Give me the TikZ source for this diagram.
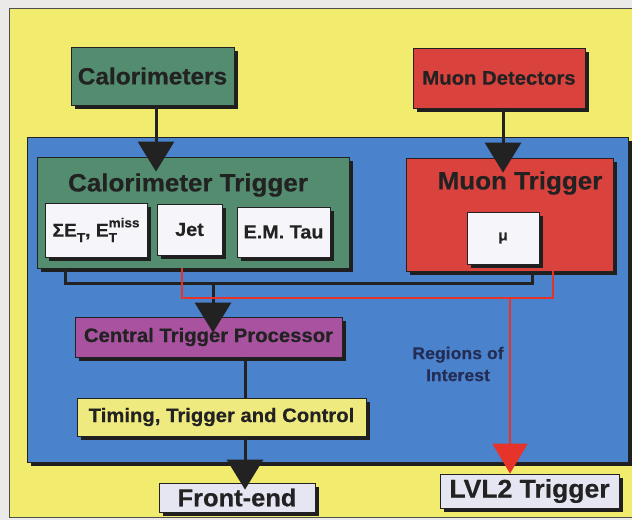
\documentclass[tikz,border=0pt]{standalone}
\usepackage{fontspec}
\newfontfamily\hv{Liberation Sans}[FakeStretch=1.04,FakeBold=0.5]
\usetikzlibrary{arrows.meta,shadows,calc}
\definecolor{bgc}{RGB}{236,234,232}
\definecolor{yel}{RGB}{242,236,110}
\definecolor{blu}{RGB}{74,130,204}
\definecolor{grn}{RGB}{84,140,112}
\definecolor{redb}{RGB}{218,66,62}
\definecolor{pur}{RGB}{168,82,160}
\definecolor{ttcy}{RGB}{238,234,128}
\definecolor{whb}{RGB}{246,246,250}
\definecolor{lav}{RGB}{230,230,242}
\definecolor{ink}{RGB}{34,34,34}
\definecolor{roi}{RGB}{35,45,85}
\definecolor{redl}{RGB}{230,52,42}
\newcommand\sbT{\raisebox{-0.3em}{\fontsize{13}{13}\selectfont T}}
\newcommand\smiss{\raisebox{0.5em}{\fontsize{13}{13}\selectfont miss}}
\begin{document}
\begin{tikzpicture}[x=1pt,y=-1pt,
  box/.style={draw=ink, line width=0.8pt, rectangle, inner sep=0pt, text=ink,
    drop shadow={shadow xshift=4pt,shadow yshift=-4pt,fill=black!88,opacity=1}},
  fs/.style={font=\hv\bfseries\fontsize{#1}{#1}\selectfont},
  wh/.style={minimum width=#1},
  ht/.style={minimum height=#1},
  blkarrow/.style={draw=ink, line width=3pt, -{Triangle[width=36pt,length=30pt]}},
  bus/.style={draw=ink, line width=3pt},
  redbus/.style={draw=redl, line width=2pt},
  redarrow/.style={draw=redl, line width=2pt, -{Triangle[width=35pt,length=30pt]}}
]
\useasboundingbox (0,0) rectangle (632,520);
\clip (0,0) rectangle (632,520);
\fill[bgc] (0,0) rectangle (632,520);
\draw[fill=yel, draw=ink!80, line width=1pt] (9,8) rectangle (650,517);

% blue area
\node[box, fill=blu, wh=601pt, ht=325pt] (blueback) at (327.5,299.5) {};

% top boxes
\node[box, fill=grn, wh=163pt, ht=58pt, fs=23.5] (calo) at (152.5,76) {Calorimeters};
\node[box, fill=redb, wh=172pt, ht=60pt, fs=19.5] (muondet) at (499,78) {Muon Detectors};

% calorimeter trigger
\node[box, fill=grn, wh=312pt, ht=111pt] (calotrig) at (193,212.5) {};
\node[fs=25, text=ink, inner sep=0pt] (calotrigt) at (188,185) {Calorimeter Trigger};
\node[box, fill=whb, wh=102pt, ht=54pt, fs=18.5] (sumet) at (96,230) {ΣE\sbT, E\rlap{\sbT}\smiss};
\node[box, fill=whb, wh=65pt, ht=51pt, fs=19] (jet) at (189.5,229.5) {Jet};
\node[box, fill=whb, wh=93pt, ht=50pt, fs=19] (emtau) at (283.5,232) {E.M. Tau};

% muon trigger
\node[box, fill=redb, wh=207pt, ht=113pt] (muontrig) at (509.5,214.5) {};
\node[fs=25, text=ink, inner sep=0pt] (muontrigt) at (520,183) {Muon Trigger};
\node[box, fill=whb, wh=72pt, ht=52pt, fs=15] (mu) at (503,238) {μ};

% processing chain
\node[box, fill=pur, wh=267pt, ht=40pt, fs=19.5] (ctp) at (208.5,337) {Central Trigger Processor};
\node[box, fill=ttcy, wh=289pt, ht=38pt, fs=19.5] (ttc) at (221.5,417) {Timing, Trigger and Control};
\node[box, fill=lav, wh=156pt, ht=29pt, fs=24.5] (fe) at (237,497.5) {Front-end};
\node[box, fill=lav, wh=179pt, ht=34pt, fs=25.5] (lvl2) at (529.5,491) {LVL2 Trigger};

\node[text=roi, align=center, inner sep=0pt, font=\hv\bfseries\fontsize{17}{22}\selectfont] (roi) at (458,364) {Regions of\\Interest};

% connectors
\draw[blkarrow] ($(calo.south)+(3.5,0)$) -- ($(calotrig.north -| calo.south)+(3.5,15)$);
\draw[blkarrow] ($(muondet.south)+(4,0)$) -- ($(muontrig.north -| muondet.south)+(4,15)$);

\draw[bus] ($(calotrig.south west)+(29,0)$) -- ++(0,15) -| ($(muontrig.south west)+(127,0)$);
\coordinate (busj) at (213,283);
\draw[blkarrow] (busj) -- ($(busj |- ctp.north)+(0,16)$);

\draw[redbus] ($(calotrig.south west)+(145,0)$) -- ++(0,30) -| ($(muontrig.south west)+(147,0)$);
\coordinate (redj) at (510,298);
\draw[redarrow] (redj) -- (redj |- lvl2.north);

\draw[bus] ($(ctp.south)+(36.5,0)$) -- ($(ttc.north -| ctp.south)+(36.5,0)$);
\draw[blkarrow] ($(ttc.south)+(23.5,0)$) -- ($(fe.north -| ttc.south)+(23.5,7)$);
\end{tikzpicture}
\end{document}
